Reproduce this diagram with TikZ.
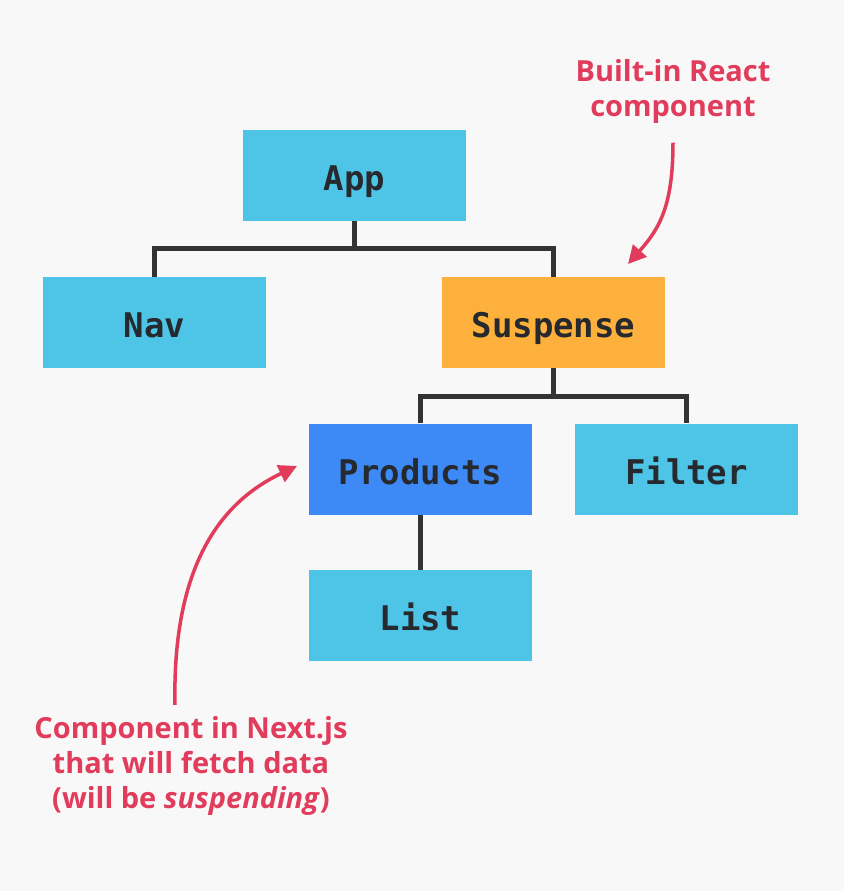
\documentclass[tikz,border=0pt]{standalone}
\usepackage{fontspec}
\setmainfont{Open Sans}
\setmonofont{DejaVu Sans Mono}
\usetikzlibrary{arrows.meta}
\definecolor{bg}{HTML}{F8F8F8}
\definecolor{cyanbox}{HTML}{4EC4E7}
\definecolor{bluebox}{HTML}{3D8AF7}
\definecolor{orangebox}{HTML}{FDB13C}
\definecolor{ink}{HTML}{262A2E}
\definecolor{note}{HTML}{E13C5C}
\definecolor{linec}{HTML}{333333}
\tikzset{
  comp/.style={draw=none, fill=cyanbox, minimum width=223pt, minimum height=91pt, inner sep=0pt,
    text height=30pt, text depth=0pt,
    text=ink, font=\ttfamily\bfseries\fontsize{34}{34}\selectfont},
  conn/.style={draw=linec, line width=5pt},
  notetext/.style={text=note, align=center, font=\bfseries\fontsize{29}{35}\selectfont},
  notearrow/.style={draw=note, line width=3.5pt, -{Triangle[length=18pt,width=18pt]}}
}
\begin{document}
\begin{tikzpicture}[x=1pt,y=-1pt]
\fill[bg] (0,0) rectangle (844,891);
\useasboundingbox (0,0) rectangle (844,891);
\node[comp] (app) at (354.5,175.5) {App};
\node[comp] (nav) at (154.5,322.5) {Nav};
\node[comp, fill=orangebox] (sus) at (553.5,322.5) {Suspense};
\node[comp, fill=bluebox] (prod) at (420.5,469) {Products};
\node[comp] (filt) at (686.5,469) {Filter};
\node[comp] (list) at (420.5,615.5) {List};
\draw[conn] (app.south) -- ++(0,27) coordinate (j1);
\draw[conn] (nav.north) |- (j1) -| (sus.north);
\draw[conn] (sus.south) -- ++(0,28) coordinate (j2);
\draw[conn] (prod.north) |- (j2) -| (filt.north);
\draw[conn] (prod.south) -- (list.north);
\node[notetext] (n1) at (673,91) {Built-in React\\component};
\node[notetext] (n2) at (191,766) {Component in Next.js\\that will fetch data\\(will be \textit{suspending})};
\coordinate (t1) at (628,264);
\coordinate (t2) at (297,466);
\draw[notearrow] (n1.south) ++(0,16) .. controls (673,205) and (660,228) .. (t1);
\draw[notearrow] (n2.north) ++(-16,-8) .. controls (172,560) and (225,500) .. (t2);
\end{tikzpicture}
\end{document}
